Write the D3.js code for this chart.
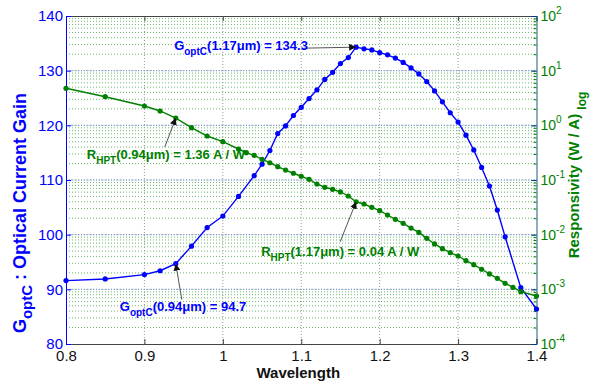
<!DOCTYPE html>
<html><head><meta charset="utf-8">
<script src="https://cdn.jsdelivr.net/npm/d3@7"></script>
<style>
body{margin:0;background:#fff}
svg{display:block}
text{font-family:"Liberation Sans",Arial,Helvetica,sans-serif}
</style>
</head><body>
<svg id="chart" width="606" height="383"></svg>
<script>
// ---- data ----
const gainWavelength = [0.80,0.85,0.90,0.92,0.94,0.96,0.98,1.00,1.02,1.04,1.05,1.06,1.07,1.08,1.09,1.10,1.11,1.12,1.13,1.14,1.15,1.16,1.17,1.18,1.19,1.20,1.21,1.22,1.23,1.24,1.25,1.26,1.27,1.28,1.29,1.30,1.31,1.32,1.33,1.34,1.35,1.36,1.38,1.40];
const gainValues = [91.6,91.9,92.7,93.4,94.7,97.9,101.3,103.4,107.0,110.8,112.9,115.4,118.5,119.9,121.8,123.3,124.9,126.5,128.4,129.7,131.3,132.4,134.3,134.0,133.8,133.3,132.9,132.3,131.5,130.5,129.4,128.0,126.3,124.3,122.3,120.6,118.2,115.5,112.3,108.9,104.5,99.6,90.3,86.4];
const respWavelength = [0.80,0.85,0.90,0.92,0.94,0.96,0.98,1.00,1.02,1.03,1.04,1.05,1.06,1.07,1.08,1.09,1.10,1.11,1.12,1.13,1.14,1.15,1.16,1.17,1.18,1.19,1.20,1.21,1.22,1.23,1.24,1.25,1.26,1.27,1.28,1.29,1.30,1.31,1.32,1.33,1.34,1.35,1.36,1.37,1.38,1.40];
const respValues = [4.76,3.34,2.26,1.83,1.36,0.906,0.638,0.502,0.369,0.316,0.283,0.239,0.207,0.175,0.152,0.133,0.117,0.103,0.0845,0.0736,0.0676,0.0604,0.051,0.04,0.0364,0.0317,0.0275,0.0229,0.0191,0.0161,0.0132,0.0110,0.00857,0.00676,0.00555,0.00468,0.00407,0.00334,0.00282,0.00233,0.00191,0.00159,0.00129,0.00109,0.000906,0.000755];
const xTicks = [0.8,0.9,1.0,1.1,1.2,1.3,1.4];
const xTickLabels = ["0.8","0.9","1","1.1","1.2","1.3","1.4"];
const gainTicks = [80,90,100,110,120,130,140];
const respTicks = [1e-4,1e-3,1e-2,1e-1,1e0,1e1,1e2];
const respTickExponents = ["-4","-3","-2","-1","0","1","2"];
const xLabel = "Wavelength";
const gainLabel = ["G","optC"," : Optical Current Gain"];
const respLabel = ["Responsivity (W / A) ","log"];
const annotations = [
  {series:"gain", wl:1.17, value:134.3, parts:["G","optC","(1.17\u03bcm) = 134.3"]},
  {series:"resp", wl:0.94, value:1.36, parts:["R","HPT","(0.94\u03bcm) = 1.36 A / W"]},
  {series:"gain", wl:0.94, value:94.7, parts:["G","optC","(0.94\u03bcm) = 94.7"]},
  {series:"resp", wl:1.17, value:0.04, parts:["R","HPT","(1.17\u03bcm) = 0.04 A / W"]}
];
// layout of annotation labels (offsets from the annotated point: text start, arrow tail)
const annotationLayout = [
  {tx:-182, ty:3, ax:-52, ay:1},
  {tx:-89, ty:41, ax:-11, ay:29},
  {tx:-56, ty:47, ax:6, ay:36},
  {tx:-95, ty:54, ax:-16, ay:40}
];

// ---- drawing ----
const BLUE = "#0000ff", GREEN = "#008000";
const L = 66, R = 536.5, T = 16, B = 344;
const svg = d3.select("#chart");
const x = d3.scaleLinear().domain([0.8,1.4]).range([L,R]);
const yG = d3.scaleLinear().domain([80,140]).range([B,T]);
const yR = d3.scaleLog().domain([1e-4,1e2]).range([B,T]);

const grid = svg.append("g");
const minor = [];
for (let e=-4;e<2;e++) for (let k=1;k<10;k++) minor.push(k*Math.pow(10,e));
minor.push(100);
grid.selectAll(".gm").data(minor.filter(v=>v>1e-4 && v<1e2)).join("line")
  .attr("x1",L).attr("x2",R).attr("y1",d=>yR(d)).attr("y2",d=>yR(d))
  .attr("stroke","#2e9a2e").attr("stroke-width",1).attr("stroke-dasharray","1,2").attr("opacity",0.7);
grid.selectAll(".gb").data(gainTicks.slice(1,-1)).join("line")
  .attr("x1",L).attr("x2",R).attr("y1",d=>yG(d)).attr("y2",d=>yG(d))
  .attr("stroke","#7a7aff").attr("stroke-width",1).attr("stroke-dasharray","1,1.5").attr("opacity",0.8);
grid.selectAll(".gx").data(xTicks.slice(1,-1)).join("line")
  .attr("x1",d=>x(d)).attr("x2",d=>x(d)).attr("y1",T).attr("y2",B)
  .attr("stroke","#9a9a9a").attr("stroke-width",1).attr("stroke-dasharray","1,2");

// axes
const xAxis = d3.axisBottom(x).tickValues(xTicks).tickFormat((d,i)=>xTickLabels[i]).tickSize(-5).tickPadding(6);
const gx = svg.append("g").attr("transform",`translate(0,${B})`).call(xAxis);
gx.select(".domain").attr("stroke","#444");
gx.selectAll(".tick line").attr("stroke","#444");
gx.selectAll("text").attr("font-size",15).attr("fill","#111");
const xTop = d3.axisTop(x).tickValues(xTicks).tickFormat("").tickSize(-5);
const gt = svg.append("g").attr("transform",`translate(0,${T})`).call(xTop);
gt.select(".domain").attr("stroke","#444");
gt.selectAll(".tick line").attr("stroke","#444");

const yAxisL = d3.axisLeft(yG).tickValues(gainTicks).tickSize(-5).tickPadding(3);
const gl = svg.append("g").attr("transform",`translate(${L},0)`).call(yAxisL);
gl.select(".domain").attr("stroke",BLUE);
gl.selectAll(".tick line").attr("stroke",BLUE);
gl.selectAll("text").attr("font-size",15).attr("fill",BLUE);

const yAxisR = d3.axisRight(yR).tickValues(respTicks).tickFormat("").tickSize(-5);
const gr = svg.append("g").attr("transform",`translate(${R},0)`).call(yAxisR);
gr.select(".domain").attr("stroke","#1d5c7a");
gr.selectAll(".tick line").attr("stroke",GREEN);
const minorR = d3.axisRight(yR).tickValues(minor.filter(v=>v>1e-4&&v<1e2&&!respTicks.includes(v))).tickFormat("").tickSize(-3);
const gr2 = svg.append("g").attr("transform",`translate(${R},0)`).call(minorR);
gr2.select(".domain").remove();
gr2.selectAll(".tick line").attr("stroke",GREEN);
const gbR = svg.append("g").attr("transform",`translate(${R},0)`).call(d3.axisRight(yG).tickValues(gainTicks).tickFormat("").tickSize(-5));
gbR.select(".domain").remove();
gbR.selectAll(".tick line").attr("stroke",BLUE).attr("opacity",0.6);

const rl = svg.append("g");
respTicks.forEach((v,i)=>{
  const t = rl.append("text").attr("x",R+4).attr("y",yR(v)+5).attr("font-size",14).attr("fill",GREEN);
  t.append("tspan").text("10");
  t.append("tspan").attr("dy",-7).attr("font-size",10).text(respTickExponents[i]);
});

// series
const lineG = d3.line().x((d,i)=>x(gainWavelength[i])).y(d=>yG(d));
svg.append("path").datum(gainValues).attr("d",lineG).attr("fill","none").attr("stroke",BLUE).attr("stroke-width",1.4);
svg.append("g").selectAll("circle").data(gainValues).join("circle")
  .attr("cx",(d,i)=>x(gainWavelength[i])).attr("cy",d=>yG(d)).attr("r",2.6).attr("fill",BLUE);
const lineR = d3.line().x((d,i)=>x(respWavelength[i])).y(d=>yR(d));
svg.append("path").datum(respValues).attr("d",lineR).attr("fill","none").attr("stroke",GREEN).attr("stroke-width",1.4);
svg.append("g").selectAll("circle").data(respValues).join("circle")
  .attr("cx",(d,i)=>x(respWavelength[i])).attr("cy",d=>yR(d)).attr("r",2.6).attr("fill",GREEN);

// annotations
const defs = svg.append("defs");
defs.append("marker").attr("id","ah").attr("viewBox","0 0 10 10").attr("refX",10).attr("refY",5)
  .attr("markerWidth",7).attr("markerHeight",7).attr("markerUnits","userSpaceOnUse").attr("orient","auto")
  .append("path").attr("d","M0,0 L10,5 L0,10 z").attr("fill","#111");
annotations.forEach((a,i)=>{
  const px = x(a.wl), py = a.series==="gain" ? yG(a.value) : yR(a.value);
  const lay = annotationLayout[i];
  const col = a.series==="gain" ? BLUE : GREEN;
  svg.append("line").attr("x1",px+lay.ax).attr("y1",py+lay.ay).attr("x2",px).attr("y2",py)
    .attr("stroke","#555").attr("stroke-width",1).attr("marker-end","url(#ah)");
  const t = svg.append("text").attr("x",px+lay.tx).attr("y",py+lay.ty)
    .attr("font-size",13).attr("font-weight","bold").attr("fill",col);
  t.append("tspan").text(a.parts[0]);
  t.append("tspan").attr("dy",5).attr("font-size",10).text(a.parts[1]);
  t.append("tspan").attr("dy",-5).text(a.parts[2]);
});

// axis labels
svg.append("text").attr("x",(L+R)/2-3).attr("y",377.5).attr("text-anchor","middle")
  .attr("font-size",15).attr("font-weight","bold").attr("fill","#111").text(xLabel);
const ylab = svg.append("text").attr("transform","translate(26,213) rotate(-90)").attr("text-anchor","middle")
  .attr("font-size",18).attr("font-weight","bold").attr("fill",BLUE);
ylab.append("tspan").text(gainLabel[0]);
ylab.append("tspan").attr("dy",6).attr("font-size",15).text(gainLabel[1]);
ylab.append("tspan").attr("dy",-6).text(gainLabel[2]);
const rlab = svg.append("text").attr("transform","translate(579,175) rotate(-90)").attr("text-anchor","middle")
  .attr("font-size",15).attr("font-weight","bold").attr("fill",GREEN);
rlab.append("tspan").text(respLabel[0]);
rlab.append("tspan").attr("dy",7).attr("font-size",12).text(respLabel[1]);
</script>
</body></html>
